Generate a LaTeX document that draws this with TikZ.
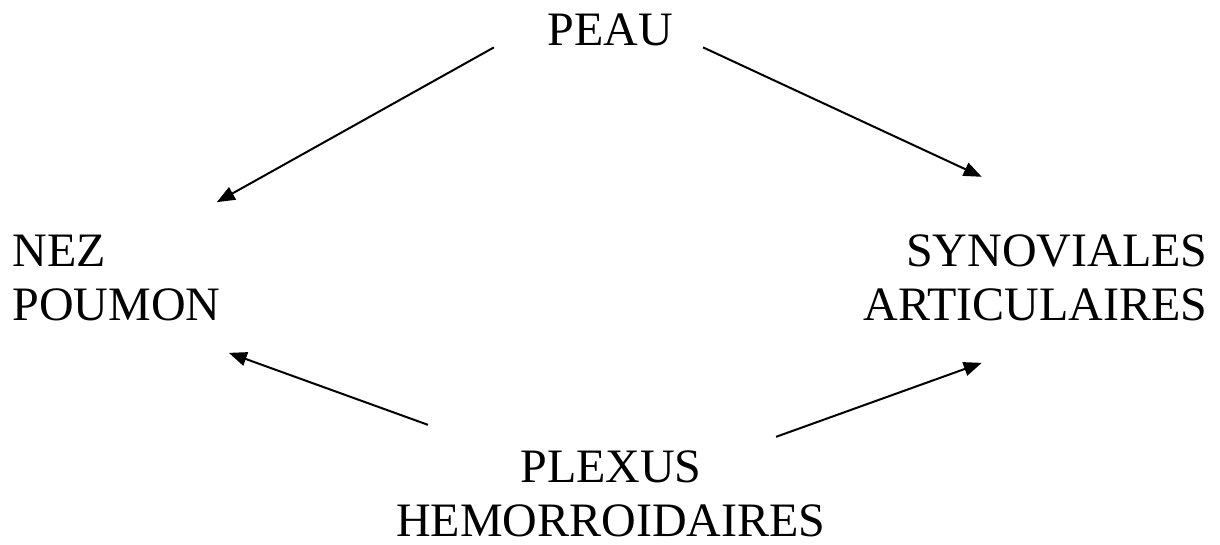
\documentclass[tikz,border=0pt]{standalone}
\usepackage{fontspec}
\setmainfont{Liberation Serif}
\usetikzlibrary{arrows.meta, positioning, calc}

\begin{document}
\begin{tikzpicture}[x=0.5pt, y=-0.5pt,
    lbl/.style={inner sep=0pt, font=\fontsize{24}{27}\selectfont},
    arr/.style={-{Triangle[length=9pt,width=7pt]}, line width=1pt}]
      % Frame
      \useasboundingbox (0,0) rectangle (1220,545);

      % Labels (base = last line)
      \node[lbl, anchor=base] (peau) at (610,46) {PEAU};
      \node[lbl, anchor=base west, align=left] (nez) at (12,320) {NEZ\\POUMON};
      \node[lbl, anchor=base east, align=right] (syn) at (1208,320) {SYNOVIALES\\ARTICULAIRES};
      \node[lbl, anchor=base, align=center] (plexus) at (611,536) {PLEXUS\\HEMORROIDAIRES};

      % Arrows from the top
      \draw[arr] ([shift={(-53,17)}]peau.west) -- ([shift={(-4,-32)}]nez.north east);
      \draw[arr] ([shift={(30,17)}]peau.east) -- ([shift={(-54,-57)}]syn.north);

      % Arrows from the bottom
      \draw[arr] ([shift={(32,-25)}]plexus.north west) -- ([shift={(8,32)}]nez.south east);
      \draw[arr] ([shift={(-50,-13)}]plexus.north east) -- ([shift={(-54,42)}]syn.south);
\end{tikzpicture}
\end{document}
